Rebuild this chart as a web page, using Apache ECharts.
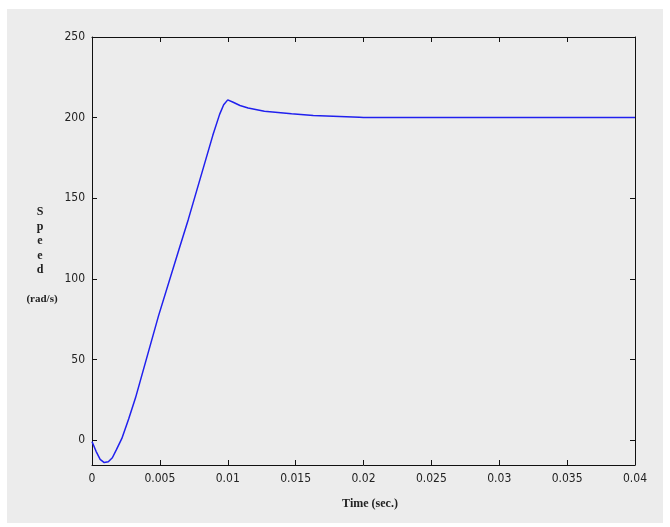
<!DOCTYPE html>
<html>
<head>
<meta charset="utf-8">
<script src="https://cdn.jsdelivr.net/npm/echarts@6/dist/echarts.min.js"></script>
<style>
html,body{margin:0;padding:0;background:#ffffff;}
#chart{width:670px;height:527px;}
</style>
</head>
<body>
<div id="chart"></div>
<script>
// Data
var timeSec = [0, 0.0003, 0.0006, 0.0009, 0.0012, 0.0015, 0.0018, 0.0022, 0.0027, 0.0032, 0.0035, 0.0049, 0.0064, 0.0071, 0.0089, 0.0094, 0.0097, 0.0100, 0.0104, 0.0109, 0.0115, 0.0127, 0.0147, 0.0163, 0.0197, 0.0200, 0.0400];
var speed   = [-1, -7, -12, -14, -13.5, -11, -6, 1, 13, 26, 35, 77, 118, 137, 189, 202, 208, 211, 209.5, 207.5, 206, 204, 202.4, 201.3, 200.2, 200, 200];
var yTicks = [0, 50, 100, 150, 200, 250];
var xTickLabels = ['0', '0.005', '0.01', '0.015', '0.02', '0.025', '0.03', '0.035', '0.04'];

var pts = timeSec.map(function (t, i) { return [t, speed[i]]; });

var labelFont = { fontFamily: 'Liberation Sans Narrow, DejaVu Sans Condensed, Liberation Sans, sans-serif', fontSize: 12, color: '#222' };
var axisLineStyle = { color: '#111', width: 1 };

var chart = echarts.init(document.getElementById('chart'), null, { renderer: 'canvas' });
chart.setOption({
  animation: false,
  backgroundColor: '#ffffff',
  graphic: [
    { type: 'rect', z: -10, silent: true, shape: { x: 7, y: 9, width: 656, height: 514 }, style: { fill: '#ececec' } },
    { type: 'text', z: 10, x: 40, y: 205, style: { text: 'S\np\ne\ne\nd', textAlign: 'center', fontFamily: 'Liberation Serif, DejaVu Serif, serif', fontWeight: 'bold', fontSize: 12, lineHeight: 14.5, fill: '#222' } },
    { type: 'text', z: 10, x: 42, y: 294, style: { text: '(rad/s)', textAlign: 'center', fontFamily: 'Liberation Serif, DejaVu Serif, serif', fontWeight: 'bold', fontSize: 11, fill: '#222' } },
    { type: 'text', z: 10, x: 370, y: 498, style: { text: 'Time (sec.)', textAlign: 'center', fontFamily: 'Liberation Serif, DejaVu Serif, serif', fontWeight: 'bold', fontSize: 12, fill: '#222' } }
  ],
  grid: { left: 92, top: 37, right: 35, bottom: 62, show: false },
  xAxis: [
    {
      type: 'value', min: 0, max: 0.04, interval: 0.005, position: 'bottom',
      axisLine: { show: true, onZero: false, lineStyle: axisLineStyle },
      axisTick: { show: true, inside: true, length: 5, lineStyle: axisLineStyle },
      axisLabel: Object.assign({ margin: 8, formatter: function (v) { var i = Math.round(v / 0.005); return xTickLabels[i] || ''; } }, labelFont),
      splitLine: { show: false }
    },
    {
      type: 'value', min: 0, max: 0.04, interval: 0.005, position: 'top',
      axisLine: { show: true, onZero: false, lineStyle: axisLineStyle },
      axisTick: { show: true, inside: true, length: 5, lineStyle: axisLineStyle },
      axisLabel: { show: false }, splitLine: { show: false }
    }
  ],
  yAxis: [
    {
      type: 'value', min: -15.5, max: 250, position: 'left',
      axisLine: { show: true, onZero: false, lineStyle: axisLineStyle },
      axisTick: { show: true, inside: true, length: 5, lineStyle: axisLineStyle, customValues: yTicks },
      axisLabel: Object.assign({ margin: 7, customValues: yTicks }, labelFont),
      splitLine: { show: false }
    },
    {
      type: 'value', min: -15.5, max: 250, position: 'right',
      axisLine: { show: true, onZero: false, lineStyle: axisLineStyle },
      axisTick: { show: true, inside: true, length: 5, lineStyle: axisLineStyle, customValues: yTicks },
      axisLabel: { show: false, customValues: yTicks }, splitLine: { show: false }
    }
  ],
  series: [{
    type: 'line', xAxisIndex: 0, yAxisIndex: 0, data: pts,
    showSymbol: false, symbol: 'none', smooth: false,
    lineStyle: { color: '#2020ee', width: 1.5 }
  }]
});
</script>
</body>
</html>
